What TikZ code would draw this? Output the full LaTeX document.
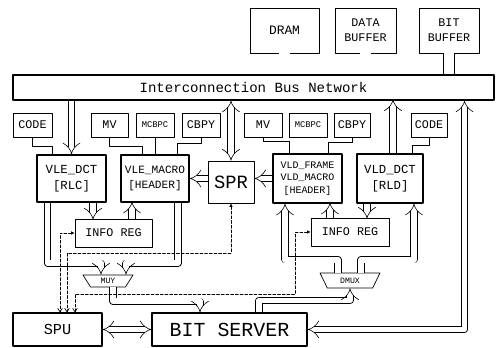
\documentclass[tikz,border=0pt]{standalone}
\usepackage{fontspec}
\setmonofont{Liberation Mono}
\usetikzlibrary{arrows.meta,calc,shapes.geometric}

\def\pxu{0.03cm}

\begin{document}
\begin{tikzpicture}[
  x=0.03cm, y=-0.03cm,
  line cap=round,
  line join=round,
  fs/.style 2 args={font=\ttfamily\fontsize{#1pt}{#2pt}\selectfont},
  cell/.style 2 args={draw, line width=0.6pt, minimum width=#1*\pxu, minimum height=#2*\pxu, inner sep=0pt, align=center},
  block/.style 2 args={cell={#1}{#2}, line width=1.1pt},
  mux/.style 2 args={draw, line width=0.6pt, trapezium, shape border rotate=180, trapezium angle=60, trapezium stretches=true, minimum width=#1*\pxu, minimum height=#2*\pxu, inner sep=0pt},
  link/.style={double, double distance=5pt, line width=0.5pt, line cap=butt, -Implies},
  wide/.style={double, double distance=9pt, line width=0.5pt, line cap=butt},
  wire/.style={line width=0.6pt},
  ctrl/.style={line width=0.6pt, dash pattern=on 2.5pt off 1.5pt, {Latex[length=3pt,width=3pt]}-{Straight Barb[length=3pt,width=4pt]}}
]
\useasboundingbox (0,0) rectangle (504,348);

% Memories and bus.
\node[cell={69}{45}, fs={11}{13}] (dram) at (284.5,30.5) {DRAM};
\node[cell={61}{45}, fs={10}{13}] (databuf) at (365.5,30.5) {DATA\\BUFFER};
\node[cell={60}{45}, fs={10}{13}] (bitbuf) at (449,30.5) {BIT\\BUFFER};
\node[cell={481}{25}, line width=0.9pt, fs={12}{14}] (bus) at (253.5,87.5) {Interconnection Bus Network};

% Header fields.
\node[cell={39}{24}, fs={10}{12}] (codeL) at (32.5,125) {CODE};
\node[cell={37}{24}, fs={10}{12}] (mvL) at (109.5,125) {MV};
\node[cell={38}{24}, fs={7.5}{9}] (mcbpcL) at (155,125) {MCBPC};
\node[cell={38}{24}, fs={10}{12}] (cbpyL) at (201,125) {CBPY};
\node[cell={38}{24}, fs={10}{12}] (mvR) at (263,125) {MV};
\node[cell={38}{24}, fs={7.5}{9}] (mcbpcR) at (308,125) {MCBPC};
\node[cell={36}{24}, fs={10}{12}] (cbpyR) at (352,125) {CBPY};
\node[cell={36}{24}, fs={10}{12}] (codeR) at (429,125) {CODE};

% Coder units.
\node[block={69}{47}, fs={10.5}{13.5}] (vledct) at (71.5,178.5) {VLE\_DCT\\{}[RLC]};
\node[block={68}{47}, fs={9.5}{13.5}] (vlemacro) at (155,178.5) {VLE\_MACRO\\{}[HEADER]};
\node[cell={46}{42}, fs={16}{18}] (spr) at (231,182) {SPR};
\node[block={69}{49}, fs={8.5}{10.5}] (vldframe) at (307.5,178.5) {VLD\_FRAME\\VLD\_MACRO\\{}[HEADER]};
\node[block={66}{49}, fs={10.5}{13.5}] (vlddct) at (390,178.5) {VLD\_DCT\\{}[RLD]};

\node[cell={77}{28}, fs={10}{12}] (infoL) at (113.5,233) {INFO REG};
\node[cell={78}{28}, fs={10}{12}] (infoR) at (350,232) {INFO REG};
\node[mux={50}{12}, fs={7}{8}] (muy) at (108,281) {MUY};
\node[mux={60}{15}, fs={7}{8}] (dmux) at (350,280.5) {DMUX};

\node[cell={89}{33}, line width=0.9pt, fs={13}{15}] (spu) at (57.5,329.5) {SPU};
\node[cell={155}{33}, line width=0.9pt, fs={17}{19}] (bitserver) at (229.5,329.5) {BIT SERVER};

% Memory ports.
\foreach \m in {dram,databuf,bitbuf}{
  \draw[wide] (\m.south) -- (\m.south |- bus.north);
}

% Field wiring.
\draw[wire] (codeL.south) -- ++(0,9) -| ($(vledct.north)+(-19.5,0)$);
\draw[wire] (mvL.south) -- ++(0,9) -| ($(vlemacro.north)+(-13,0)$);
\draw[wire] (mcbpcL.south) -- (vlemacro.north);
\draw[wire] (cbpyL.south) -- ++(0,6) -| ($(vlemacro.north)+(22,0)$);
\draw[wire] (mvR.south) -- ++(0,4) -| ($(vldframe.north)+(-18.5,0)$);
\draw[wire] (cbpyR.south) -- ++(0,5) -| ($(vldframe.north)+(20.5,0)$);
\draw[wire] (codeR.south) -- ++(0,8) -| ($(vlddct.north)+(22,0)$);

% Bus transfers.
\draw[link] (bus.south -| vledct.north) -- (vledct.north);
\draw[link, Implies-Implies] (bus.south -| spr.north) -- (spr.north);
\draw[link] ($(vlddct.north)+(3,0)$) -- ++(0,-54);
\draw[link, Implies-Implies] ($(bus.south east)+(-30,0)$) |- (bitserver.east);
\draw[link] (spr.west |- vlemacro.east) -- (vlemacro.east);
\draw[link] (vldframe.west) -- (spr.east |- vldframe.west);

% Info registers.
\draw[link] ($(vledct.south)+(21.5,0)$) -- ++(0,17);
\draw[link] ($(infoL.north)+(18.5,0)$) -- ++(0,-17);
\draw[link] ($(vlddct.south)+(-23,0)$) -- ++(0,15);
\draw[link] ($(infoR.north)+(-20,0)$) -- ++(0,-15);

% Multiplexing to and from the bit server.
\draw[link] ($(vledct.south)+(-24,0)$) -- ++(0,60.5) -| ($(muy.north)+(-7,0)$);
\draw[link] ($(vlemacro.south)+(23,0)$) -- ++(0,60.5) -| ($(muy.north)+(18,0)$);
\draw[link] ($(muy.south)+(5,0)$) -- ++(0,14) -| ($(bitserver.north)+(-29.5,0)$);
\draw[link] ($(dmux.north)+(-12,0)$) -- ++(0,-13) -| ($(vldframe.south)+(-22.5,0)$);
\draw[link] ($(dmux.north)+(11,0)$) -- ++(0,-13) -| ($(vlddct.south)+(24,0)$);
\draw[link] ($(bitserver.north)+(29.5,0)$) -- ++(0,-12) -| (dmux.south);
\draw[link, Implies-Implies] (spu.east) -- (bitserver.west);

% Control paths to the SPU.
\draw[ctrl] (infoL.west) -| ($(spu.north)+(2.5,0)$);
\draw[ctrl] (spr.south) -- ++(0,50) -| ($(spu.north)+(9.5,0)$);
\draw[ctrl] (infoR.west) -| ++(-15,62) -| ($(spu.north)+(17.5,0)$);

\end{tikzpicture}
\end{document}
